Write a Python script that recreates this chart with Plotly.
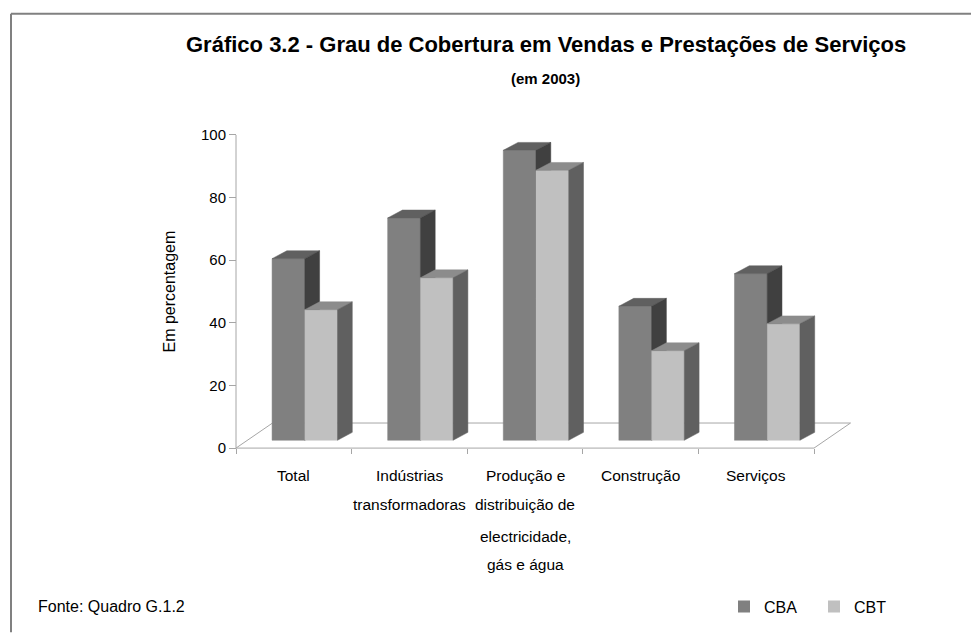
import plotly.graph_objects as go

# ---------------- data ----------------
categories = [
    ["Total"],
    ["Indústrias", "transformadoras"],
    ["Produção e", "distribuição de", "electricidade,", "gás e água"],
    ["Construção"],
    ["Serviços"],
]
series_names = ["CBA", "CBT"]
cba = [58.0, 71.0, 92.6, 42.8, 53.2]
cbt = [41.7, 51.9, 86.2, 28.6, 37.2]
y_ticks = [0, 20, 40, 60, 80, 100]

# ---------------- styling / geometry ----------------
front_cols = ["#808080", "#c0c0c0"]
top_cols = ["#606060", "#8c8c8c"]
side_cols = ["#404040", "#606060"]
axis_col = "#a6a6a6"
FONT = "Arial, Liberation Sans, sans-serif"
TFONT = "Arial, Liberation Sans, sans-serif"

W, H = 971, 635
ML, MR, MT, MB = 222, 105, 133, 177
PW, PH = W - ML - MR, H - MT - MB
SX, SY = 115.6, 3.18            # px per data unit
X0 = -0.5 - (236 - ML) / SX
X1 = X0 + PW / SX
Y0 = -((H - MB) - 453) / SY
Y1 = Y0 + PH / SY

FLOOR_DX, FLOOR_DY = 0.316, 8.0   # floor depth
BAR_W = 0.283
BAR_FX, BAR_BASE = 0.095, 2.5     # bar plane offset inside floor
BAR_DX, BAR_DY = 0.128, 2.52      # bar depth


def pxx(px):
    return (px - ML) / PW


def pxy(py):
    return ((H - MB) - py) / PH


fig = go.Figure()

# floor + axis lines
n = len(categories)
xl, xr = -0.5, n - 0.5
floor_x = [xl, xl + FLOOR_DX, xr + FLOOR_DX, xr, xl, None, xl, xl]
floor_y = [0, FLOOR_DY, FLOOR_DY, 0, 0, None, 0, 100]
fig.add_trace(go.Scatter(x=floor_x, y=floor_y, mode="lines",
                         line=dict(color=axis_col, width=1),
                         hoverinfo="skip", showlegend=False))

# bars as 3D boxes
for s, vals in enumerate([cba, cbt]):
    fx, fy, tx, ty, sx_, sy_ = [], [], [], [], [], []
    for i, v in enumerate(vals):
        x0 = i + BAR_FX - BAR_W + s * BAR_W
        x1 = x0 + BAR_W
        b = BAR_BASE
        t = BAR_BASE + v
        fx += [x0, x1, x1, x0, x0, None]
        fy += [b, b, t, t, b, None]
        tx += [x0, x1, x1 + BAR_DX, x0 + BAR_DX, x0, None]
        ty += [t, t, t + BAR_DY, t + BAR_DY, t, None]
        sx_ += [x1, x1 + BAR_DX, x1 + BAR_DX, x1, x1, None]
        sy_ += [b, b + BAR_DY, t + BAR_DY, t, b, None]
    for xs, ys, c in [(fx, fy, front_cols[s]), (tx, ty, top_cols[s]), (sx_, sy_, side_cols[s])]:
        fig.add_trace(go.Scatter(x=xs, y=ys, mode="lines", fill="toself",
                                 fillcolor=c, line=dict(color=c, width=0.5),
                                 hoverinfo="skip", showlegend=False))

# legend entries
for s, name in enumerate(series_names):
    fig.add_trace(go.Bar(x=[None], y=[None], name=name,
                         marker=dict(color=front_cols[s], line=dict(width=0))))

# category labels
line_px = [481, 510, 543, 571]
annotations = []
for i, lines in enumerate(categories):
    for k, txt in enumerate(lines):
        annotations.append(dict(x=i, xref="x", y=pxy(line_px[k]), yref="paper",
                                text=txt, showarrow=False, xanchor="center",
                                yanchor="middle",
                                font=dict(family=FONT, size=15.5, color="#000000")))

annotations += [
    dict(x=pxx(546), y=pxy(43), xref="paper", yref="paper",
         text="<b>Gráfico 3.2 - Grau de Cobertura em Vendas e Prestações de Serviços</b>",
         showarrow=False, xanchor="center", yanchor="middle",
         font=dict(family=TFONT, size=22, color="#000000")),
    dict(x=pxx(545), y=pxy(78), xref="paper", yref="paper",
         text="<b>(em 2003)</b>", showarrow=False, xanchor="center", yanchor="middle",
         font=dict(family=TFONT, size=15, color="#000000")),
    dict(x=pxx(170), y=pxy(294), xref="paper", yref="paper",
         text="Em percentagem", textangle=-90, showarrow=False,
         xanchor="center", yanchor="middle",
         font=dict(family=FONT, size=16, color="#000000")),
    dict(x=pxx(36), y=pxy(614), xref="paper", yref="paper",
         text="Fonte: Quadro G.1.2", showarrow=False,
         xanchor="left", yanchor="middle",
         font=dict(family=FONT, size=16, color="#000000")),
]

shapes = [
    dict(type="line", xref="paper", yref="paper", x0=pxx(11), x1=pxx(971),
         y0=pxy(12), y1=pxy(12), line=dict(color="#808080", width=2)),
    dict(type="line", xref="paper", yref="paper", x0=pxx(11), x1=pxx(11),
         y0=pxy(12), y1=pxy(640), line=dict(color="#808080", width=2)),
]

fig.update_layout(
    width=W, height=H,
    margin=dict(l=ML, r=MR, t=MT, b=MB, pad=0),
    paper_bgcolor="white", plot_bgcolor="white",
    showlegend=True,
    legend=dict(orientation="h", x=pxx(724), xanchor="left",
                y=pxy(614), yanchor="middle",
                font=dict(family=FONT, size=16, color="#000000"),
                bgcolor="rgba(0,0,0,0)", entrywidth=45, entrywidthmode="pixels"),
    annotations=annotations,
    shapes=shapes,
    xaxis=dict(range=[X0, X1], showgrid=False, zeroline=False, showline=False,
               tickvals=[i - 0.5 for i in range(n + 1)], ticks="outside",
               ticklen=5, tickcolor=axis_col, showticklabels=False,
               anchor="free", position=(0 - Y0) / (Y1 - Y0)),
    yaxis=dict(range=[Y0, Y1], showgrid=False, zeroline=False, showline=False,
               tickvals=y_ticks, ticks="outside", ticklen=7, tickcolor=axis_col,
               tickfont=dict(family=FONT, size=15, color="#000000"),
               anchor="free", position=(-0.5 - X0) / (X1 - X0)),
    font=dict(family=FONT),
)

css_js = (
    "var s=document.createElement('style');"
    "s.textContent='html,body{margin:0;padding:0;overflow:hidden;width:971px;height:635px;}"
    "body>div{height:635px;overflow:hidden;}';"
    "document.head.appendChild(s);"
)
fig.write_html("out.html", config={"displayModeBar": False}, post_script=css_js)
